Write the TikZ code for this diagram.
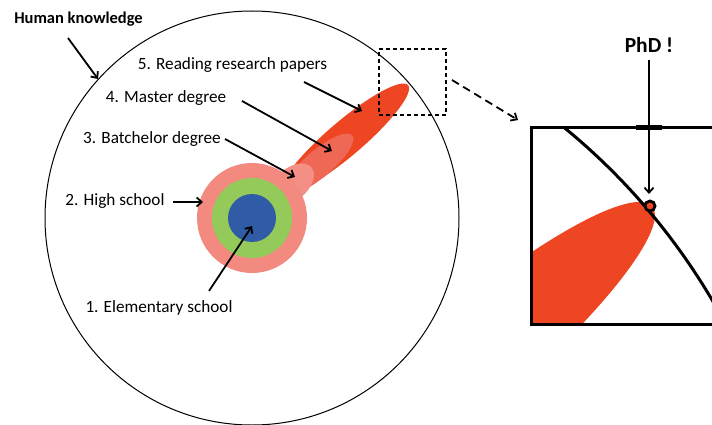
\documentclass[tikz,border=0pt]{standalone}
\usepackage{fontspec}
\setmainfont{Carlito}
\usetikzlibrary{arrows.meta}
\definecolor{tailred}{HTML}{EE4623}
\definecolor{mastersalmon}{HTML}{EF6856}
\definecolor{batpink}{HTML}{F48F86}
\definecolor{ringpink}{HTML}{F28A80}
\definecolor{ringgreen}{HTML}{94CA5A}
\definecolor{ringblue}{HTML}{2F5BA7}
\tikzset{
  lbl/.style={inner sep=0pt, font=\fontsize{17.2}{19}\selectfont},
  blbl/.style={inner sep=0pt, font=\fontsize{16.5}{18}\selectfont\bfseries},
  arr/.style={line width=1.8pt, -{Straight Barb[length=5pt,width=9pt]}},
  thickline/.style={line width=3pt},
}
\begin{document}
\begin{tikzpicture}[x=1pt,y=-1pt]
\clip (0,0) rectangle (712,425);
\fill[white] (0,0) rectangle (712,425);
% big circle
\node[circle, draw, line width=1pt, minimum size=414pt, inner sep=0pt] (world) at (252,218) {};
% tail ellipses
\begin{scope}[shift={(252,218)}, rotate=40.4]
  \fill[tailred] (122.5,0) ellipse [x radius=82.5, y radius=17.5];
  \fill[mastersalmon] (86,2) ellipse [x radius=44, y radius=13.5];
  \fill[batpink] (52,0) ellipse [x radius=26, y radius=16];
\end{scope}
% rings
\node[circle, fill=ringpink, minimum size=110pt, inner sep=0pt] (high) at (252,218) {};
\node[circle, fill=ringgreen, minimum size=80pt, inner sep=0pt] (middle) at (252,218) {};
\node[circle, fill=ringblue, minimum size=48pt, inner sep=0pt] (elem) at (252,218) {};
% dashed box
\node[draw, line width=1.8pt, dash pattern=on 4pt off 3pt, minimum width=67pt, minimum height=66pt, inner sep=0pt] (zoomsrc) at (412.5,82) {};
% zoom box
\begin{scope}
  \clip (531,128) rectangle (740,324);
  \begin{scope}[shift={(467,364)}, rotate=40.4]
    \fill[tailred] (0,0) ellipse [x radius=243, y radius=50];
  \end{scope}
  \draw[thickline] (156,627) circle [radius=645];
\end{scope}
\draw[thickline] (740,128) -- (531,128) -- (531,324) -- (740,324);
\node[circle, draw, line width=2.8pt, fill=tailred, minimum size=10pt, inner sep=0pt] (tip) at (650,206) {};
% labels
\node[blbl] (hk) at (78.5,19) {Human knowledge};
\node[lbl] (l5) at (232.5,65) {5. Reading research papers};
\node[lbl] (l4) at (166,98) {4. Master degree};
\node[lbl] (l3) at (152,139) {3. Batchelor degree};
\node[lbl] (l2) at (115,201) {2. High school};
\node[lbl] (l1) at (159,308) {1. Elementary school};
\node[inner sep=0pt, font=\fontsize{21.5}{23}\selectfont\bfseries] (phd) at (649,45) {PhD !};
% arrow coordinates
\coordinate (hkS) at (68,38);   \coordinate (hkE) at (98,79);
\coordinate (r5S) at (304,82);  \coordinate (r5E) at (362,111);
\coordinate (r4S) at (242,101); \coordinate (r4E) at (332,151);
\coordinate (r3S) at (225,139); \coordinate (r3E) at (295,177);
\coordinate (r2S) at (173,202); \coordinate (r2E) at (203,202);
\coordinate (r1S) at (209,291); \coordinate (r1E) at (252,226);
\coordinate (phS) at (649,60);  \coordinate (phE) at (649,194);
\coordinate (dzS) at (452,80);  \coordinate (dzE) at (518,120);
\coordinate (tickL) at (636,128); \coordinate (tickR) at (662,128);
\draw[arr] (hkS) -- (hkE);
\draw[arr] (r5S) -- (r5E);
\draw[arr] (r4S) -- (r4E);
\draw[arr] (r3S) -- (r3E);
\draw[arr] (r2S) -- (r2E);
\draw[arr] (r1S) -- (r1E);
\draw[line width=5pt] (tickL) -- (tickR);
\draw[arr] (phS) -- (phE);
\draw[arr, dash pattern=on 8pt off 5pt] (dzS) -- (dzE);
\end{tikzpicture}
\end{document}
